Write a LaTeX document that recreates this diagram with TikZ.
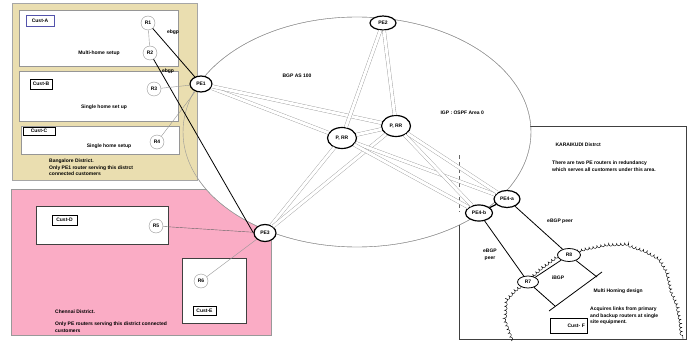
\documentclass[tikz,border=0pt]{standalone}
\usepackage{fontspec}
\setmainfont{Liberation Sans}
\usetikzlibrary{positioning, shapes.geometric, decorations.pathmorphing, calc}
\usepackage{xcolor}
\definecolor{btan}{RGB}{234,222,176}
\definecolor{cpink}{RGB}{250,172,197}
\definecolor{lgray}{RGB}{150,150,150}

\begin{document}
\begin{tikzpicture}[x=1pt,y=-1pt,
  font=\fontsize{5}{6.5}\selectfont\bfseries,
  router/.style={draw=lgray, fill=white, circle, minimum size=14pt, inner sep=0pt},
  pe/.style={draw, very thick, fill=white, ellipse, minimum width=22pt, minimum height=16pt, inner sep=0pt},
  prr/.style={pe, minimum width=29pt, minimum height=21pt},
  ce/.style={draw, thick, fill=white, ellipse, minimum width=21pt, minimum height=12pt, inner sep=0pt},
  custbox/.style={draw=lgray, fill=white},
  darkbox/.style={draw=black!75, line width=0.8pt, fill=white},
  tagbox/.style={draw, line width=0.8pt, fill=white, inner sep=0.5pt},
  mesh/.style={draw=lgray, line width=0.35pt, double=white, double distance=3pt},
  thinlink/.style={draw=lgray, line width=0.4pt},
  ebgp/.style={draw, line width=0.8pt}
]
  \useasboundingbox (0,0) rectangle (690,342);
  \fill[white] (0,0) rectangle (690,342);

  % Chennai district
  \filldraw[fill=cpink, draw=black!40] (11,189) rectangle (271,335);

  % AS 100 backbone
  \draw[lgray, fill=white] (357,132) ellipse [x radius=174pt, y radius=115pt];

  % Karaikudi district
  \draw[line width=0.9pt, black!75] (530,126) -- (686,126) -- (686,339) -- (459,339) -- (459,225);
  \draw[line width=0.9pt, black!60, dash pattern=on 4pt off 3pt] (459,155) -- (459,212);
  \draw[decorate, decoration={bumps, segment length=8pt, mirror}]
    (511,341) -- (504,322) -- (505,300) -- (514,290) -- (522,284) -- (540,268) -- (556,256)
    -- (585,248) -- (605,244) -- (625,243) -- (645,250) -- (660,258) -- (668,272) -- (672,290)
    -- (678,305) -- (681,320) -- (683,339);

  % Bangalore district
  \filldraw[fill=btan, draw=black!35] (12,3) rectangle (197,180);
  \foreach \x/\y/\X/\Y in {19/10/178/66, 19/71/178/121, 21/126/179/154}
    \draw[custbox] (\x,\y) rectangle (\X,\Y);
  \draw[lgray] (357,132) ellipse [x radius=174pt, y radius=115pt];

  \node[tagbox, draw=blue!35!gray, minimum width=28pt, minimum height=11pt] (tagA) at (40,20.5) {Cust-A};
  \node[tagbox, minimum width=22pt, minimum height=10pt] (tagB) at (41,84) {Cust-B};
  \node[tagbox, minimum width=32pt, minimum height=8pt] (tagC) at (39,131) {Cust-C};
  \node (txtA) at (99,53) {Multi-home setup};
  \node (txtB) at (104,107) {Single home set up};
  \node (txtC) at (109,146) {Single home setup};
  \node[anchor=north west, align=left, inner sep=0pt] (blr) at (49,159)
    {Bangalore District.\\Only PE1 router serving this distrct\\connected customers};

  \node[router] (R1) at (148,23) {R1};
  \node[router] (R2) at (150,53) {R2};
  \node[router] (R3) at (154,89) {R3};
  \node[router] (R4) at (157,142) {R4};
  \node (eb1) at (173,32) {ebgp};
  \node (eb2) at (168,71) {ebgp};

  % Chennai customers
  \draw[darkbox] (36,206) rectangle (168,244);
  \draw[darkbox] (182,258) rectangle (246,323);
  \node[tagbox, minimum width=25pt, minimum height=10pt] (tagD) at (64.5,220) {Cust-D};
  \node[tagbox, minimum width=23pt, minimum height=9pt] (tagE) at (204.5,310.5) {Cust-E};
  \node[router] (R5) at (156,226) {R5};
  \node[router] (R6) at (201,281) {R6};
  \node[anchor=west, inner sep=0pt] (che) at (55,312) {Chennai District.};
  \node[anchor=north west, align=left, inner sep=0pt] (che2) at (55,322)
    {Only PE routers serving this district connected\\customers};

  % backbone routers
  \node[pe] (PE1) at (201,84) {PE1};
  \node[pe, minimum width=26pt, minimum height=14pt] (PE2) at (383,23) {PE2};
  \node[prr] (PL) at (342,138) {P, RR};
  \node[prr] (PR) at (396,126) {P, RR};
  \node[pe, minimum height=17pt] (PE3) at (265,233) {PE3};
  \node[pe, minimum width=26pt, minimum height=17pt] (PE4a) at (507,199) {PE4-a};
  \node[pe, minimum width=27pt] (PE4b) at (479,213) {PE4-b};
  \node (bgp) at (297,76) {BGP AS 100};
  \node[anchor=west] (igp) at (437,113) {IGP : OSPF Area 0};

  \foreach \a/\b in {PE1/PL, PE1/PR, PE2/PL, PE2/PR, PL/PR, PE3/PL, PE3/PR,
                     PL/PE4a, PL/PE4b, PR/PE4a, PR/PE4b}
    \draw[mesh] (\a) -- (\b);

  % customer links
  \draw[thinlink] (R1) -- (R2);
  \draw[ebgp] (R1) -- (PE1);
  \draw[ebgp] (R2) -- (PE3.west);
  \draw[thinlink] (R3) -- (PE1);
  \draw[thinlink] (R4) -- (PE1);
  \draw[thinlink, black!60] (R5) -- (PE3);
  \draw[thinlink] (R6) -- (PE3);

  % Karaikudi customer
  \node[anchor=west] (kar) at (552,145) {KARAIKUDI Distrct};
  \node[anchor=north west, align=left, inner sep=0pt] (kar2) at (552,161)
    {There are two PE routers in redundancy\\which serves all customers under this area.};
  \node[ce] (R7) at (528,282) {R7};
  \node[ce, minimum width=23pt, minimum height=13pt] (R8) at (569,255) {R8};
  \node[draw, thick, fill=white, text width=33pt, align=right, inner sep=2pt,
        minimum height=15pt] (custF) at (568.5,325.5) {Cust- F};
  \coordinate (mhA) at (597,277);
  \coordinate (mhB) at (555,306);
  \coordinate (mhT) at (602,272);
  \coordinate (mhE) at (549,311);
  \draw[very thick] (PE4a) -- (PE4b);
  \draw[ebgp] (PE4a) -- (R8);
  \draw[ebgp] (PE4b) -- (R7);
  \draw[ebgp] (R7) -- (R8);
  \draw[ebgp] (R8) -- (mhA);
  \draw[ebgp] (R7) -- (mhB);
  \draw[ebgp] (mhT) -- (mhE);
  \node (peer1) at (560,221) {eBGP peer};
  \node[align=center] (peer2) at (490,255) {eBGP\\peer};
  \node (ibgp) at (558,278) {iBGP};
  \node[anchor=west] (mh) at (590,291) {Multi Homing design};
  \node[anchor=north west, align=left, inner sep=0pt] (acq) at (590,307)
    {Acquires links from primary\\and backup routers at single\\site equipment.};
\end{tikzpicture}
\end{document}
